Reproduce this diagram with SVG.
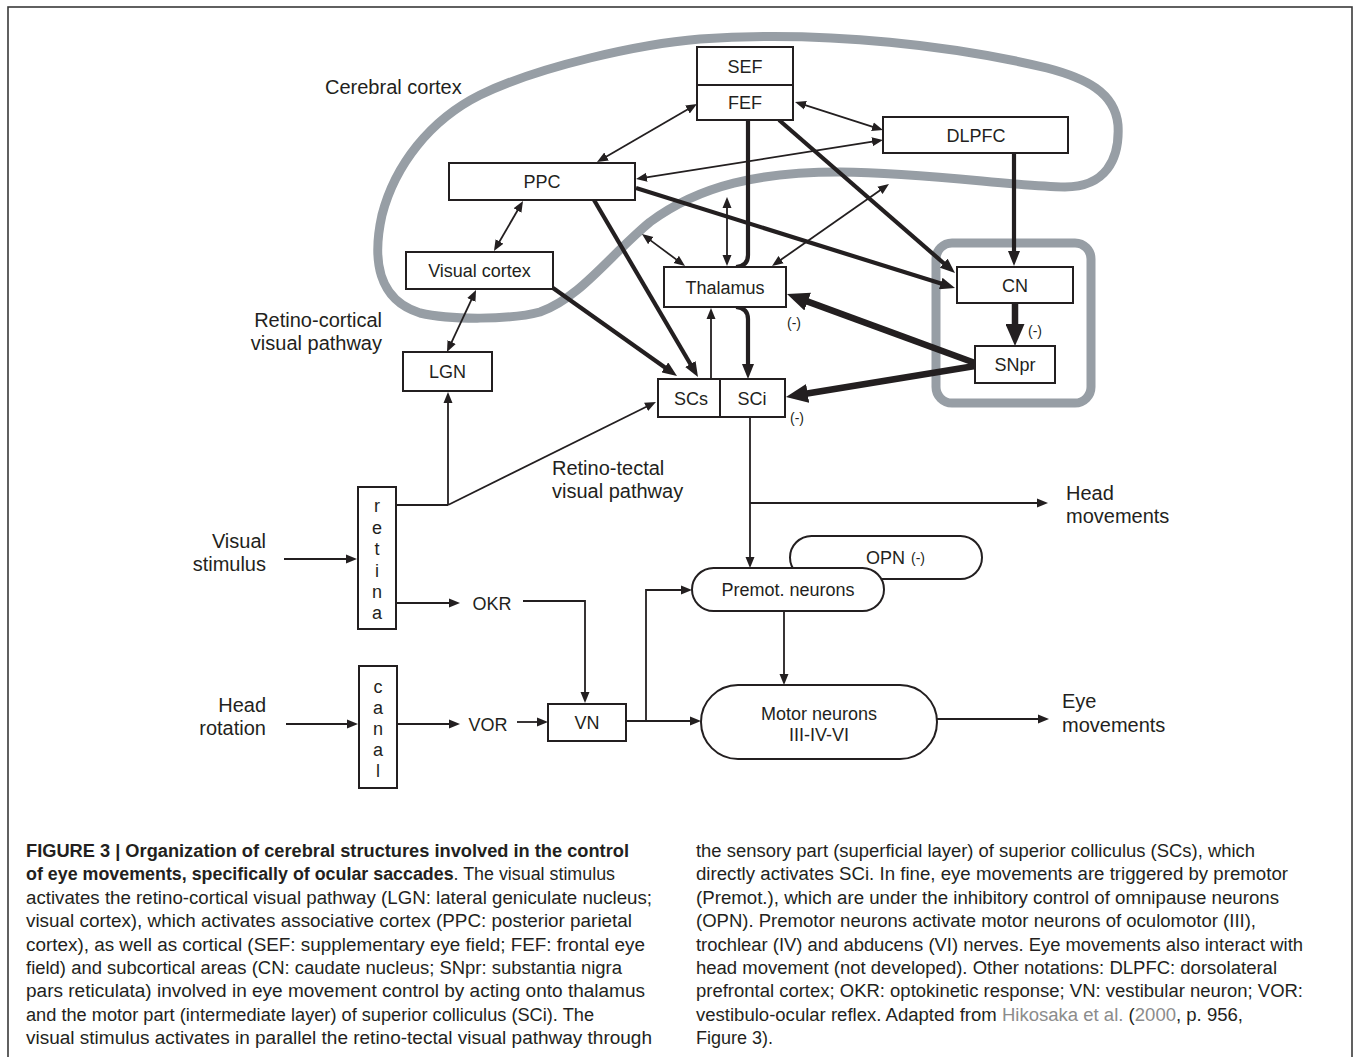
<svg xmlns="http://www.w3.org/2000/svg" width="1354" height="1057" viewBox="0 0 1354 1057">
<defs>
<style>
text{font-family:"Liberation Sans",Arial,Helvetica,sans-serif;fill:#231f20}
.lbl{font-size:18px;text-anchor:middle}
.side{font-size:20px}
.neg{font-size:14px;text-anchor:middle}
.cap{font-size:18px}
.b{font-weight:bold}
.link{fill:#8c8c8c}
.box{fill:#fff;stroke:#231f20;stroke-width:2}
.c{fill:none;stroke:#231f20;stroke-width:1.8}
.t{stroke-width:4.2}
.v{stroke-width:6.5}
.gray{fill:none;stroke:#979ea5;stroke-width:9}
</style>
<marker id="a" markerUnits="userSpaceOnUse" viewBox="0 -5 11 10" refX="2" refY="0" markerWidth="11" markerHeight="10" orient="auto-start-reverse"><path d="M0,-4.5L11,0L0,4.5Z" fill="#231f20"/></marker>
<marker id="aT" markerUnits="userSpaceOnUse" viewBox="0 -6 15 12" refX="2" refY="0" markerWidth="15" markerHeight="12" orient="auto-start-reverse"><path d="M0,-6L15,0L0,6Z" fill="#231f20"/></marker>
<marker id="aV" markerUnits="userSpaceOnUse" viewBox="0 -9.5 22 19" refX="2" refY="0" markerWidth="22" markerHeight="19" orient="auto-start-reverse"><path d="M0,-9.5L22,0L0,9.5Z" fill="#231f20"/></marker>
</defs>
<rect x="0" y="0" width="1354" height="1057" fill="#fff"/>
<rect x="8" y="7" width="1344" height="1100" fill="none" stroke="#3a3a3a" stroke-width="1.6"/>

<g id="regions">
<path id="cortex-loop" class="gray" d="M700,39 C640,44 540,66 480,95 C430,120 395,165 382,215 C372,260 378,300 420,313 C450,320 510,320 540,312 C580,298 610,255 650,222 C700,185 760,172 840,172 C930,173 1010,186 1065,187 C1105,187 1120,160 1118,125 C1115,92 1085,78 1047,68 C960,47 830,30 700,39 Z"/>
<rect id="basal-ganglia" class="gray" x="936" y="243" width="155" height="160" rx="16"/>
</g>

<g id="connectors">
<line class="c" x1="689.2" y1="108.5" x2="604.8" y2="157.5" marker-start="url(#a)" marker-end="url(#a)"/>
<line class="c" x1="803.6" y1="104.7" x2="874.4" y2="127.3" marker-start="url(#a)" marker-end="url(#a)"/>
<line class="c" x1="644.9" y1="177.6" x2="874.1" y2="141.4" marker-start="url(#a)" marker-end="url(#a)"/>
<line class="c" x1="518.5" y1="208.8" x2="498.5" y2="243.2" marker-start="url(#a)" marker-end="url(#a)"/>
<line class="c" x1="472.2" y1="298.2" x2="450.8" y2="343.8" marker-start="url(#a)" marker-end="url(#a)"/>
<line class="c" x1="649.2" y1="239.4" x2="677.8" y2="260.6" marker-start="url(#a)" marker-end="url(#a)"/>
<line class="c" x1="727" y1="206" x2="727" y2="257" marker-start="url(#a)" marker-end="url(#a)"/>
<line class="c" x1="881.6" y1="189.2" x2="779.4" y2="260.8" marker-start="url(#a)" marker-end="url(#a)"/>
<line class="c" x1="711" y1="379" x2="711" y2="317" marker-end="url(#a)"/>
<path class="c" d="M396,505 H448"/>
<line class="c" x1="448" y1="505" x2="448" y2="401" marker-end="url(#a)"/>
<line class="c" x1="448" y1="505" x2="647.9" y2="406" marker-end="url(#a)"/>
<line class="c" x1="284" y1="559" x2="348" y2="559" marker-end="url(#a)"/>
<line class="c" x1="396" y1="603" x2="451" y2="603" marker-end="url(#a)"/>
<path class="c" d="M523,601 H585 V694" marker-end="url(#a)"/>
<line class="c" x1="286" y1="724" x2="349" y2="724" marker-end="url(#a)"/>
<line class="c" x1="397" y1="724" x2="451" y2="724" marker-end="url(#a)"/>
<line class="c" x1="517" y1="722" x2="539" y2="722" marker-end="url(#a)"/>
<line class="c" x1="626" y1="721" x2="692" y2="721" marker-end="url(#a)"/>
<path class="c" d="M646,721 V590 H683" marker-end="url(#a)"/>
<line class="c" x1="750" y1="417" x2="750" y2="559" marker-end="url(#a)"/>
<line class="c" x1="750" y1="503" x2="1039" y2="503" marker-end="url(#a)"/>
<line class="c" x1="784" y1="611" x2="784" y2="676" marker-end="url(#a)"/>
<line class="c" x1="937" y1="719" x2="1040" y2="719" marker-end="url(#a)"/>
<path class="c t" d="M748,120 V255 Q748,266 736,267"/>
<path class="c t" d="M736,307 Q748,308 748,319 V366" marker-end="url(#aT)"/>
<line class="c t" x1="779" y1="120" x2="945.2" y2="264.5" marker-end="url(#aT)"/>
<line class="c t" x1="636" y1="188" x2="942.6" y2="284.1" marker-end="url(#aT)"/>
<line class="c t" x1="1014" y1="153" x2="1014" y2="253" marker-end="url(#aT)"/>
<line class="c t" x1="594" y1="200" x2="691.4" y2="365.8" marker-end="url(#aT)"/>
<line class="c t" x1="553" y1="288" x2="666.4" y2="368.5" marker-end="url(#aT)"/>
<line class="c v" x1="1015" y1="303" x2="1015" y2="326" marker-end="url(#aV)"/>
<line class="c v" x1="975" y1="363" x2="805.8" y2="300.9" marker-end="url(#aV)"/>
<line class="c v" x1="975" y1="366" x2="805.7" y2="393.8" marker-end="url(#aV)"/>
</g>

<g id="node-sef-fef">
<rect class="box" x="697" y="47" width="96" height="73"/>
<line x1="697" y1="85" x2="793" y2="85" stroke="#231f20" stroke-width="2"/>
<text class="lbl" x="745" y="72.5">SEF</text>
<text class="lbl" x="745" y="109">FEF</text>
</g>
<g id="node-dlpfc"><rect class="box" x="883" y="117" width="185" height="36"/><text class="lbl" x="976" y="141.5">DLPFC</text></g>
<g id="node-ppc"><rect class="box" x="449" y="163" width="186" height="37"/><text class="lbl" x="542" y="188">PPC</text></g>
<g id="node-visual-cortex"><rect class="box" x="406" y="252" width="147" height="37"/><text class="lbl" x="479.5" y="277">Visual cortex</text></g>
<g id="node-thalamus"><rect class="box" x="664" y="267" width="122" height="40"/><text class="lbl" x="725" y="293.5">Thalamus</text></g>
<g id="node-cn"><rect class="box" x="957" y="267" width="116" height="36"/><text class="lbl" x="1015" y="291.5">CN</text></g>
<g id="node-snpr"><rect class="box" x="975" y="346" width="80" height="37"/><text class="lbl" x="1015" y="371">SNpr</text></g>
<g id="node-sc">
<rect class="box" x="658" y="379" width="127" height="38"/>
<line x1="720" y1="379" x2="720" y2="417" stroke="#231f20" stroke-width="2"/>
<text class="lbl" x="691" y="404.5">SCs</text>
<text class="lbl" x="752" y="404.5">SCi</text>
</g>
<g id="node-lgn"><rect class="box" x="403" y="352" width="89" height="39"/><text class="lbl" x="447.5" y="378">LGN</text></g>
<g id="node-retina">
<rect class="box" x="358" y="487" width="38" height="142"/>
<text class="lbl" x="377" y="512">r</text>
<text class="lbl" x="377" y="534">e</text>
<text class="lbl" x="377" y="555">t</text>
<text class="lbl" x="377" y="577">i</text>
<text class="lbl" x="377" y="598">n</text>
<text class="lbl" x="377" y="619">a</text>
</g>
<g id="node-canal">
<rect class="box" x="359" y="666" width="38" height="122"/>
<text class="lbl" x="378" y="693">c</text>
<text class="lbl" x="378" y="714">a</text>
<text class="lbl" x="378" y="735">n</text>
<text class="lbl" x="378" y="756">a</text>
<text class="lbl" x="378" y="777">l</text>
</g>
<g id="node-okr"><text class="lbl" x="492" y="609.5">OKR</text></g>
<g id="node-vor"><text class="lbl" x="488" y="730.5">VOR</text></g>
<g id="node-vn"><rect class="box" x="548" y="704" width="78" height="37"/><text class="lbl" x="587" y="729">VN</text></g>
<g id="node-opn"><rect class="box" x="790" y="536" width="192" height="43" rx="21.5"/><text class="lbl" x="866" y="564" text-anchor="start" style="text-anchor:start">OPN</text><text class="neg" x="918" y="563">(-)</text></g>
<g id="node-premot"><rect class="box" x="692" y="568" width="192" height="43" rx="21.5"/><text class="lbl" x="788" y="596">Premot. neurons</text></g>
<g id="node-motor"><rect class="box" x="701" y="685" width="236" height="74" rx="37"/><text class="lbl" x="819" y="719.5">Motor neurons</text><text class="lbl" x="819" y="740.5">III-IV-VI</text></g>

<g id="labels">
<text class="side" x="325" y="94">Cerebral cortex</text>
<text class="side" x="382" y="327" text-anchor="end">Retino-cortical</text>
<text class="side" x="382" y="350" text-anchor="end">visual pathway</text>
<text class="side" x="552" y="475">Retino-tectal</text>
<text class="side" x="552" y="498">visual pathway</text>
<text class="side" x="266" y="548" text-anchor="end">Visual</text>
<text class="side" x="266" y="571" text-anchor="end">stimulus</text>
<text class="side" x="266" y="712" text-anchor="end">Head</text>
<text class="side" x="266" y="735" text-anchor="end">rotation</text>
<text class="side" x="1066" y="500">Head</text>
<text class="side" x="1066" y="523">movements</text>
<text class="side" x="1062" y="708">Eye</text>
<text class="side" x="1062" y="732">movements</text>
<text class="neg" x="794" y="328">(-)</text>
<text class="neg" x="1035" y="336">(-)</text>
<text class="neg" x="797" y="423">(-)</text>
</g>

<g id="caption">
<text class="cap b" x="26" y="857" textLength="603" lengthAdjust="spacingAndGlyphs">FIGURE 3 | Organization of cerebral structures involved in the control</text>
<text class="cap" x="26" y="880.4" textLength="589" lengthAdjust="spacingAndGlyphs"><tspan class="b">of eye movements, specifically of ocular saccades</tspan>. The visual stimulus</text>
<text class="cap" x="26" y="903.8" textLength="626" lengthAdjust="spacingAndGlyphs">activates the retino-cortical visual pathway (LGN: lateral geniculate nucleus;</text>
<text class="cap" x="26" y="927.2" textLength="606" lengthAdjust="spacingAndGlyphs">visual cortex), which activates associative cortex (PPC: posterior parietal</text>
<text class="cap" x="26" y="950.6" textLength="619" lengthAdjust="spacingAndGlyphs">cortex), as well as cortical (SEF: supplementary eye field; FEF: frontal eye</text>
<text class="cap" x="26" y="974" textLength="596" lengthAdjust="spacingAndGlyphs">field) and subcortical areas (CN: caudate nucleus; SNpr: substantia nigra</text>
<text class="cap" x="26" y="997.4" textLength="619" lengthAdjust="spacingAndGlyphs">pars reticulata) involved in eye movement control by acting onto thalamus</text>
<text class="cap" x="26" y="1020.8" textLength="568" lengthAdjust="spacingAndGlyphs">and the motor part (intermediate layer) of superior colliculus (SCi). The</text>
<text class="cap" x="26" y="1044.2" textLength="626" lengthAdjust="spacingAndGlyphs">visual stimulus activates in parallel the retino-tectal visual pathway through</text>
<text class="cap" x="696" y="857" textLength="559" lengthAdjust="spacingAndGlyphs">the sensory part (superficial layer) of superior colliculus (SCs), which</text>
<text class="cap" x="696" y="880.4" textLength="592" lengthAdjust="spacingAndGlyphs">directly activates SCi. In fine, eye movements are triggered by premotor</text>
<text class="cap" x="696" y="903.8" textLength="583" lengthAdjust="spacingAndGlyphs">(Premot.), which are under the inhibitory control of omnipause neurons</text>
<text class="cap" x="696" y="927.2" textLength="560" lengthAdjust="spacingAndGlyphs">(OPN). Premotor neurons activate motor neurons of oculomotor (III),</text>
<text class="cap" x="696" y="950.6" textLength="607" lengthAdjust="spacingAndGlyphs">trochlear (IV) and abducens (VI) nerves. Eye movements also interact with</text>
<text class="cap" x="696" y="974" textLength="581" lengthAdjust="spacingAndGlyphs">head movement (not developed). Other notations: DLPFC: dorsolateral</text>
<text class="cap" x="696" y="997.4" textLength="607" lengthAdjust="spacingAndGlyphs">prefrontal cortex; OKR: optokinetic response; VN: vestibular neuron; VOR:</text>
<text class="cap" x="696" y="1020.8" textLength="547" lengthAdjust="spacingAndGlyphs">vestibulo-ocular reflex. Adapted from <tspan class="link">Hikosaka et al.</tspan> (<tspan class="link">2000</tspan>, p. 956,</text>
<text class="cap" x="696" y="1044.2">Figure 3).</text>
</g>
</svg>
